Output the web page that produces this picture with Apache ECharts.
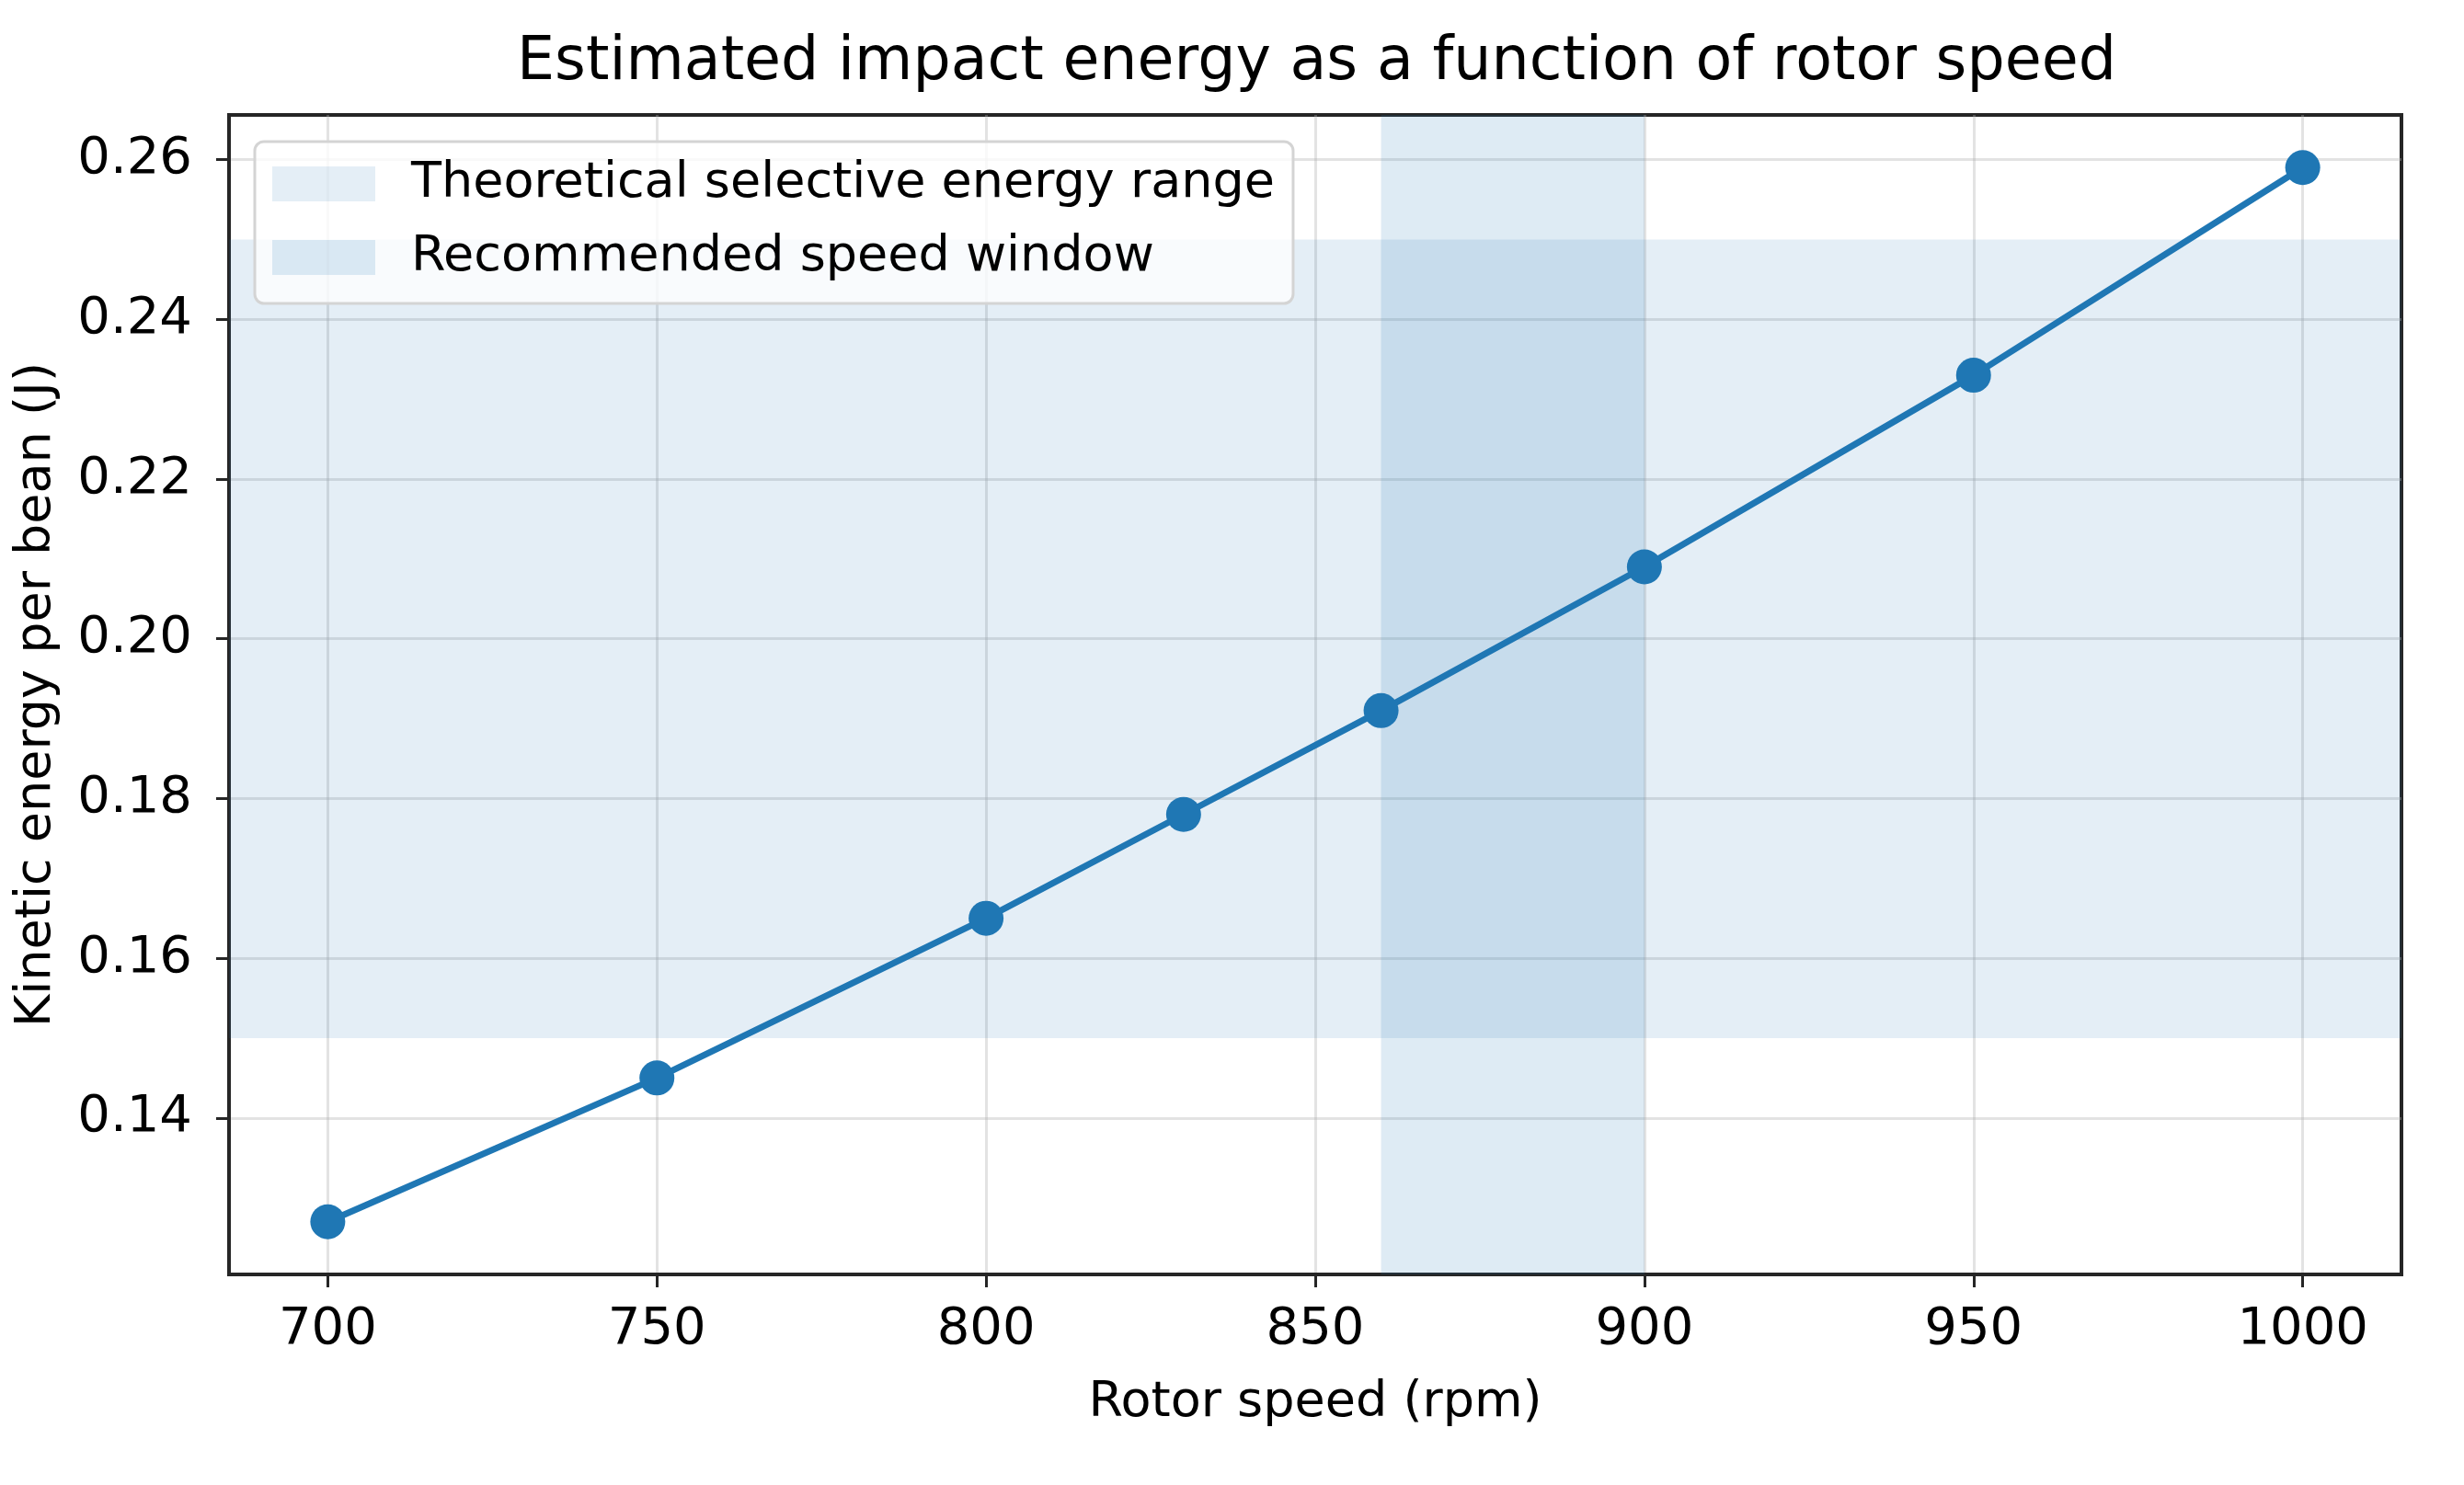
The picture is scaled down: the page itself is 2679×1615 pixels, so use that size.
<!DOCTYPE html>
<html>
<head>
<meta charset="utf-8">
<script src="https://cdn.jsdelivr.net/npm/echarts@6/dist/echarts.min.js"></script>
<style>
  html, body { margin: 0; padding: 0; background: #fff; }
  #chart { width: 2679px; height: 1615px; }
</style>
</head>
<body>
<div id="chart"></div>
<script>
// data
const speeds = [700, 750, 800, 830, 860, 900, 950, 1000];
const energy = [0.127, 0.145, 0.165, 0.178, 0.191, 0.209, 0.233, 0.259];
const energyRange = [0.15, 0.25];
const speedWindow = [860, 900];
const xTicks = [700, 750, 800, 850, 900, 950, 1000];
const yTicks = [0.14, 0.16, 0.18, 0.20, 0.22, 0.24, 0.26];

const FONT = 'DejaVu Sans';
const BLUE = '#1f77b4';

const chart = echarts.init(document.getElementById('chart'));

const option = {
  animation: false,
  textStyle: { fontFamily: FONT, color: '#000' },
  title: {
    text: 'Estimated impact energy as a function of rotor speed',
    left: 562,
    top: 37,
    padding: 0,
    textStyle: { fontFamily: FONT, fontSize: 65, fontWeight: 'normal', color: '#000' },
  },
  legend: {
    orient: 'vertical',
    left: 277,
    top: 154,
    padding: [14, 20, 18, 19],
    itemWidth: 112,
    itemHeight: 38,
    itemGap: 16,
    backgroundColor: 'rgba(255,255,255,0.8)',
    borderColor: '#d4d4d4',
    borderWidth: 3,
    borderRadius: 10,
    textStyle: { fontFamily: FONT, fontSize: 54, color: '#000', lineHeight: 64, padding: [0, 0, 0, 34] },
    data: [
      { name: 'Theoretical selective energy range', icon: 'rect' },
      { name: 'Recommended speed window', icon: 'rect' },
    ],
  },
  grid: {
    left: 249,
    right: 68,
    top: 125,
    bottom: 229,
    show: true,
    borderColor: '#262626',
    borderWidth: 4,
  },
  xAxis: {
    type: 'value',
    min: 685,
    max: 1015,
    name: 'Rotor speed (rpm)',
    nameLocation: 'middle',
    nameGap: 113,
    nameTextStyle: { fontFamily: FONT, fontSize: 54, color: '#000' },
    axisLine: { show: true, lineStyle: { color: '#262626', width: 4 } },
    axisTick: { show: true, length: 14, lineStyle: { color: '#262626', width: 3 }, customValues: xTicks },
    axisLabel: {
      fontFamily: FONT, fontSize: 56, color: '#000', margin: 32,
      customValues: xTicks,
      formatter: (v) => String(v),
    },
    splitLine: { show: true, lineStyle: { color: 'rgba(176,176,176,0.35)', width: 3 } },
  },
  yAxis: {
    type: 'value',
    min: 0.1204,
    max: 0.2656,
    name: 'Kinetic energy per bean (J)',
    nameLocation: 'middle',
    nameRotate: 90,
    nameGap: 182,
    nameTextStyle: { fontFamily: FONT, fontSize: 54, color: '#000' },
    axisLine: { show: true, lineStyle: { color: '#262626', width: 4 } },
    axisTick: { show: true, length: 14, lineStyle: { color: '#262626', width: 3 }, customValues: yTicks },
    axisLabel: {
      fontFamily: FONT, fontSize: 56, color: '#000', margin: 40,
      customValues: yTicks,
      formatter: (v) => v.toFixed(2),
    },
    splitLine: { show: true, lineStyle: { color: 'rgba(176,176,176,0.35)', width: 3 } },
  },
  series: [
    {
      name: 'Theoretical selective energy range',
      type: 'line',
      data: [],
      color: 'rgba(31,119,180,0.12)',
      z: 1,
      markArea: {
        silent: true,
        itemStyle: { color: 'rgba(31,119,180,0.12)' },
        data: [[{ yAxis: energyRange[0] }, { yAxis: energyRange[1] }]],
      },
    },
    {
      name: 'Recommended speed window',
      type: 'line',
      data: [],
      color: 'rgba(31,119,180,0.15)',
      z: 1,
      markArea: {
        silent: true,
        itemStyle: { color: 'rgba(31,119,180,0.15)' },
        data: [[{ xAxis: speedWindow[0] }, { xAxis: speedWindow[1] }]],
      },
    },
    {
      name: 'Kinetic energy',
      type: 'line',
      data: speeds.map((s, i) => [s, energy[i]]),
      z: 5,
      color: BLUE,
      lineStyle: { color: BLUE, width: 7 },
      symbol: 'circle',
      symbolSize: 38,
      itemStyle: { color: BLUE },
    },
  ],
};

chart.setOption(option);
</script>
</body>
</html>
